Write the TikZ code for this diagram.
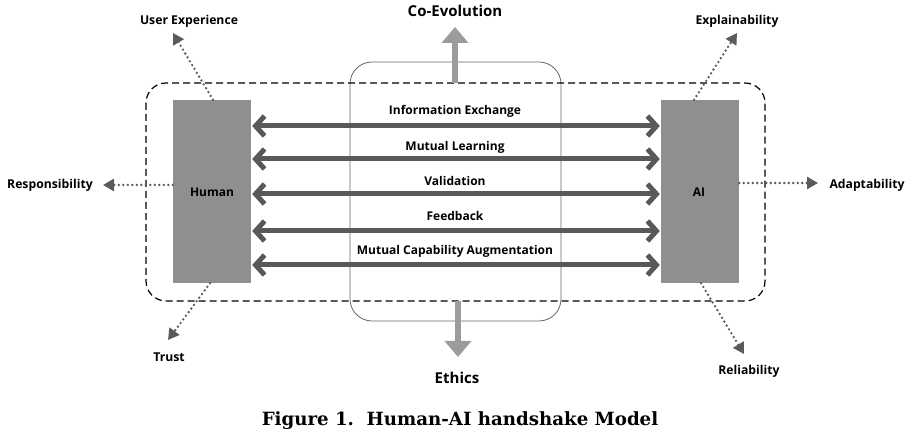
\documentclass[tikz,border=0pt]{standalone}
\usepackage{fontspec}
\setmainfont{Liberation Serif}
\newfontfamily\labfont{Open Sans}
\newfontfamily\capfont{DejaVu Serif}
\usetikzlibrary{arrows.meta}
\definecolor{boxgray}{HTML}{8F8F8F}
\definecolor{arrgray}{HTML}{595959}
\definecolor{lightarr}{HTML}{9C9C9C}
\definecolor{dotgray}{HTML}{5A5A5A}
\tikzset{
  x=1pt, y=-1pt,
  lab/.style={font=\labfont\bfseries\fontsize{12.2}{14}\selectfont, inner sep=0pt},
  midlab/.style={font=\labfont\bfseries\fontsize{12}{14}\selectfont, inner sep=0pt},
  biglab/.style={font=\labfont\bfseries\fontsize{15}{17}\selectfont, inner sep=0pt},
  agent/.style={fill=boxgray, draw=none, minimum width=78pt, minimum height=183pt, inner sep=0pt},
  agentlab/.style={inner sep=0pt, font=\labfont\bfseries\fontsize{12}{14}\selectfont},
  biarrow/.style={draw=arrgray, line width=5pt, {Straight Barb[length=9pt,width=20pt]}-{Straight Barb[length=9pt,width=20pt]}, shorten <=1pt, shorten >=1pt},
  dotarrow/.style={draw=dotgray, line width=2.6pt, line cap=round, dash pattern=on 0pt off 4.5pt, -{Triangle[length=11pt,width=12pt,fill=dotgray]}},
  bigarrow/.style={draw=lightarr, line width=6pt, -{Triangle[length=16pt,width=26pt,fill=lightarr]}},
}
\begin{document}
\begin{tikzpicture}
\fill[white] (0,0) rectangle (918,435);
\useasboundingbox (0,0) rectangle (918,435);

% central rounded box
\draw[draw=black!60, line width=0.8pt, rounded corners=22pt] (350,62) rectangle (561,321);
% dashed frame
\draw[black, line width=1.2pt, dash pattern=on 7pt off 4pt, rounded corners=20pt] (146,83) rectangle (765,301);

% agents
\node[agent] (human) at (212,191.5) {};
\node[agentlab] (humanlab) at (212,192) {Human};
\node[agent] (ai) at (700,191.5) {};
\node[agentlab] (ailab) at (699,192) {AI};

% interaction labels
\node[midlab] (l1) at (455,111) {Information Exchange};
\node[midlab] (l2) at (455,147) {Mutual Learning};
\node[midlab] (l3) at (455,181) {Validation};
\node[midlab] (l4) at (455,216) {Feedback};
\node[midlab] (l5) at (455,251) {Mutual Capability Augmentation};

% interaction arrows
\coordinate (y1) at (0,126);
\coordinate (y2) at (0,159);
\coordinate (y3) at (0,194);
\coordinate (y4) at (0,231);
\coordinate (y5) at (0,265);
\foreach \k in {1,...,5}{
  \draw[biarrow] (human.east |- y\k) -- (ai.west |- y\k);
}

% co-evolution and ethics
\node[biglab] (coevo) at (455,11) {Co-Evolution};
\node[biglab] (ethics) at (457,378) {Ethics};
\coordinate (coTop) at (455,83);
\coordinate (coTip) at (455,27);
\draw[bigarrow] (coTop) -- (coTip);
\coordinate (etTop) at (458,301);
\coordinate (etTip) at (458,357);
\draw[bigarrow] (etTop) -- (etTip);

% quality labels
\node[lab] (ux) at (189,21) {User Experience};
\node[lab] (expl) at (737,21) {Explainability};
\node[lab] (resp) at (50,185) {Responsibility};
\node[lab] (adapt) at (867,185) {Adaptability};
\node[lab] (trust) at (169,357) {Trust};
\node[lab] (rel) at (749,371) {Reliability};

% dotted connectors
\coordinate (uxTip) at (173,33);
\coordinate (explTip) at (737,33);
\coordinate (respTip) at (103,185);
\coordinate (adaptTip) at (818,183);
\coordinate (trustTip) at (168,340);
\coordinate (relTip) at (744,354);
\draw[dotarrow] (human.north -| 213,0) -- (uxTip);
\draw[dotarrow] (ai.north -| 694,0) -- (explTip);
\draw[dotarrow] (human.west |- 0,185) -- (respTip);
\draw[dotarrow] (ai.east |- 0,183) -- (adaptTip);
\draw[dotarrow] (human.south -| 210,0) -- (trustTip);
\draw[dotarrow] (ai.south -| 701,0) -- (relTip);

% caption
\node[inner sep=0pt, font=\capfont\bfseries\fontsize{18.2}{21}\selectfont] (cap) at (460,421) {Figure 1.\ \ Human-AI handshake Model};
\end{tikzpicture}
\end{document}
